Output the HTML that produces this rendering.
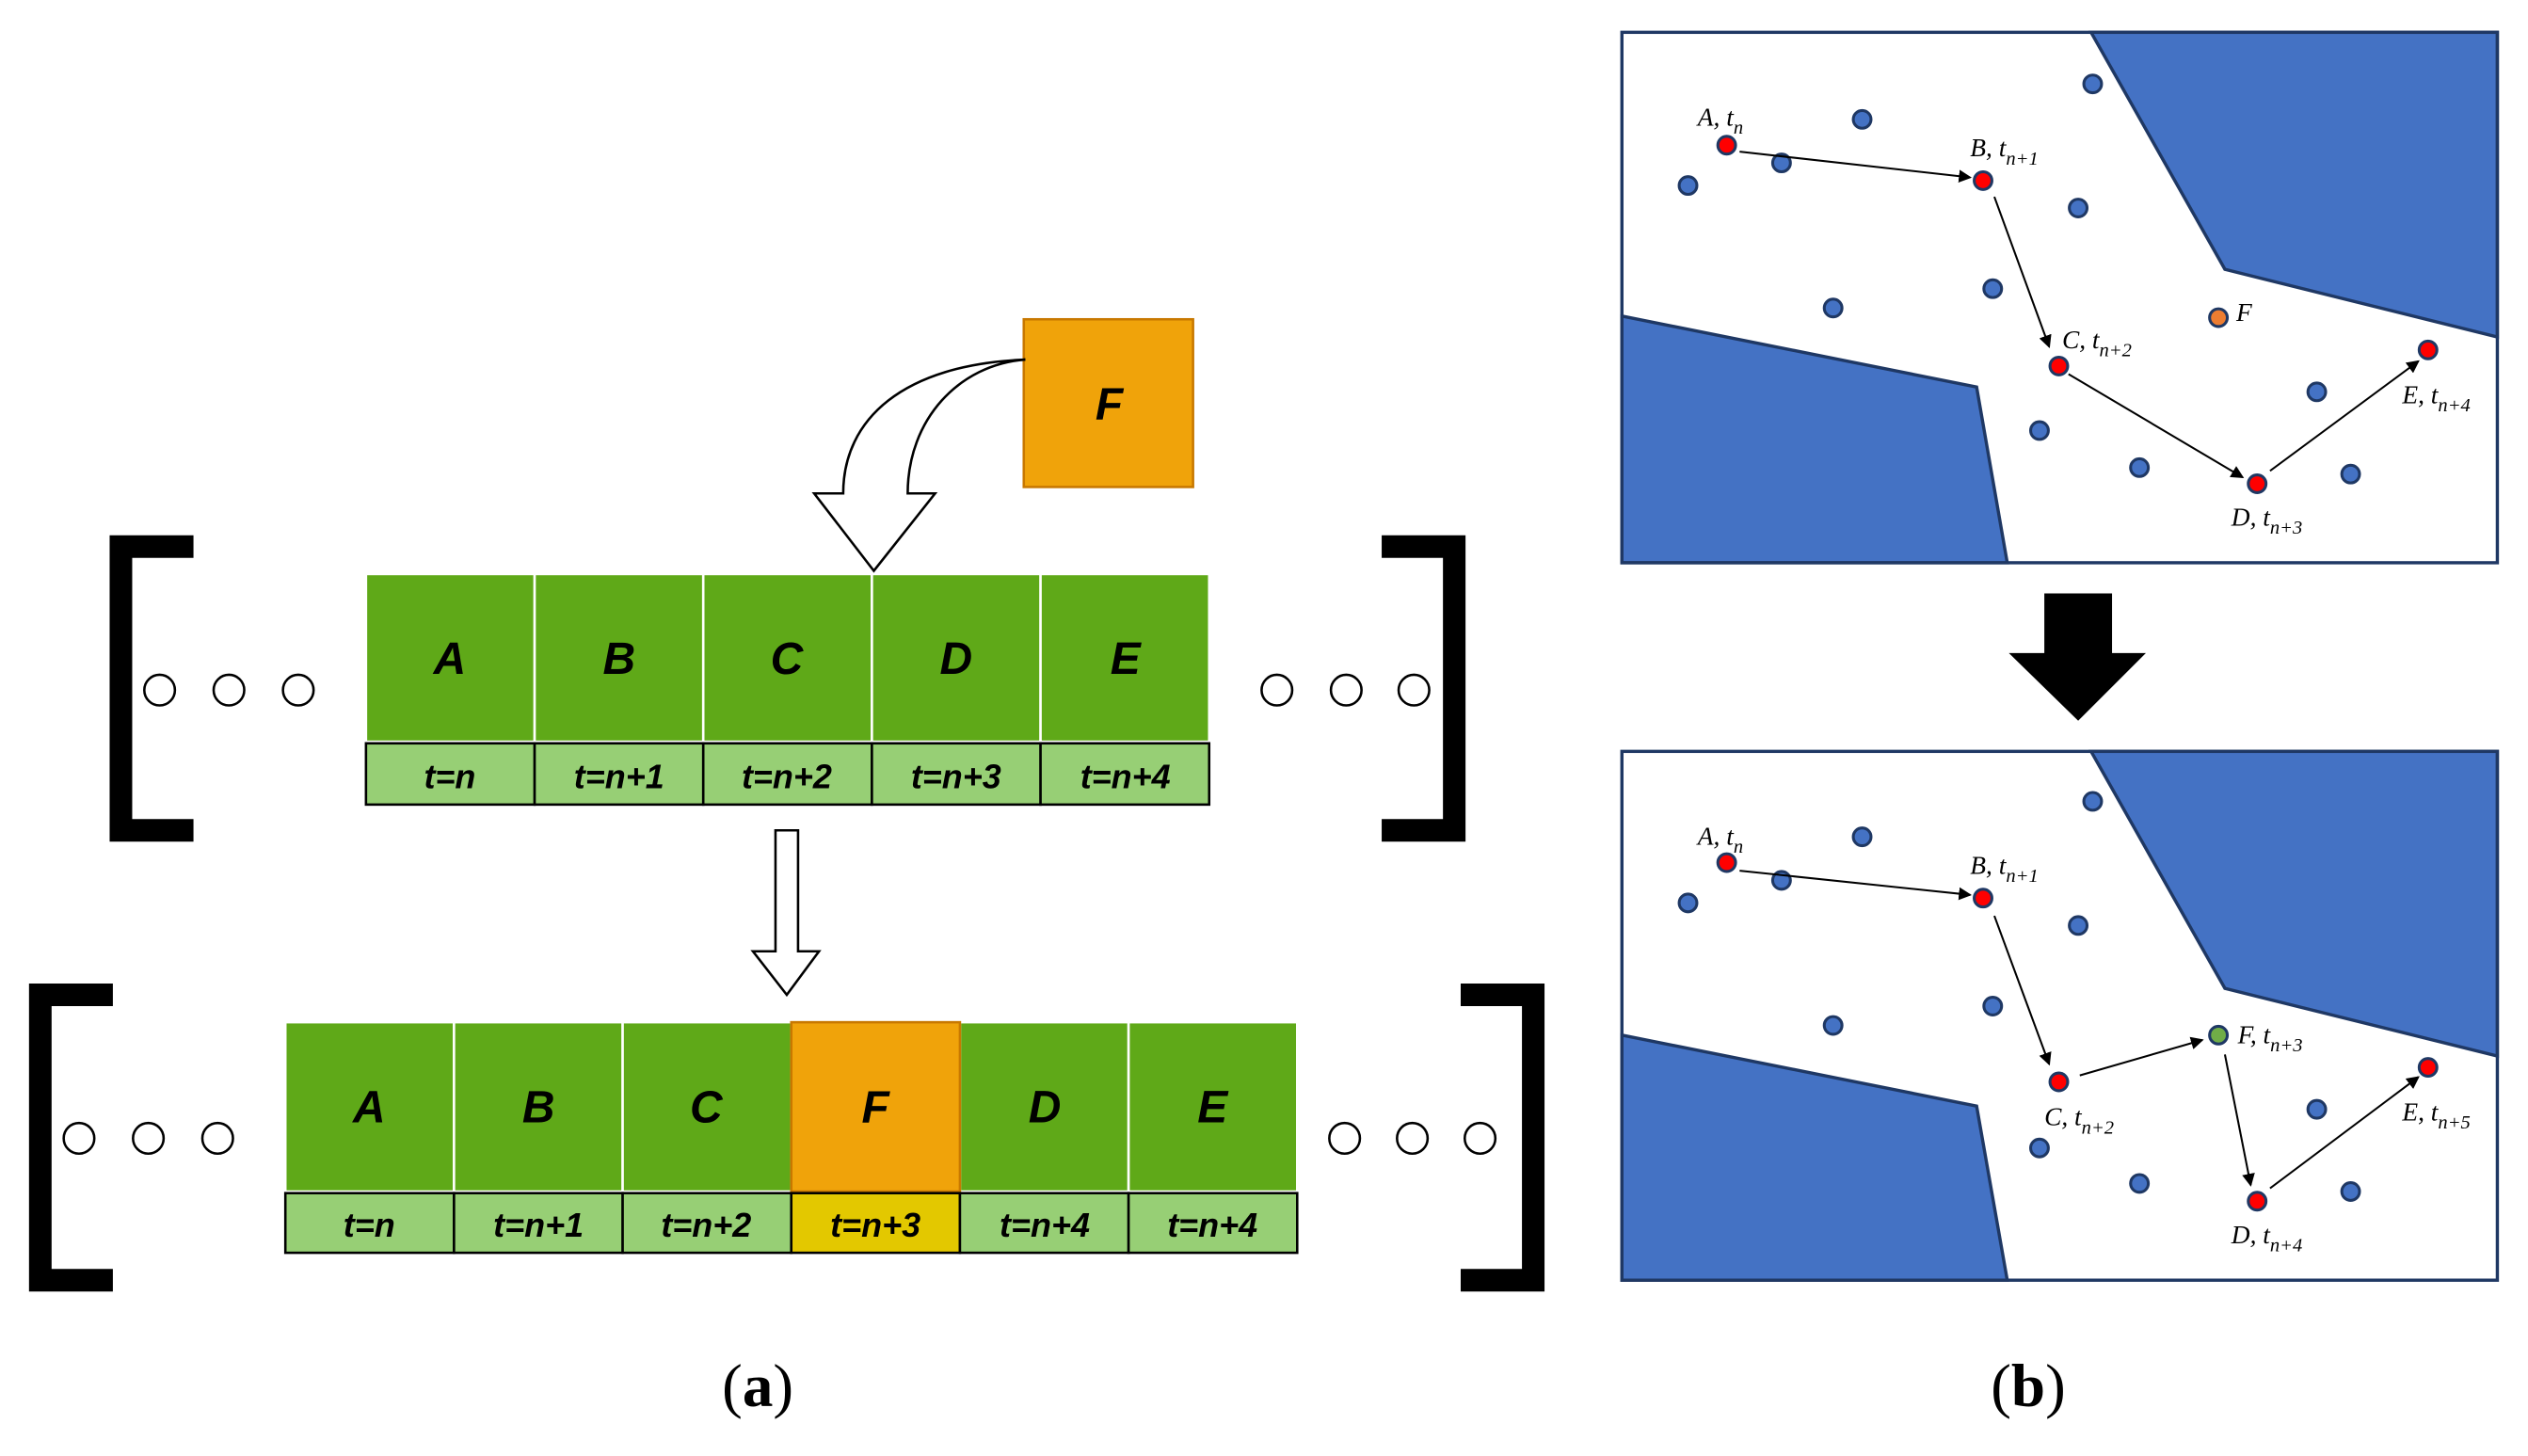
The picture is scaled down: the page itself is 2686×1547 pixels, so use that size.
<!DOCTYPE html>
<html><head><meta charset="utf-8"><style>html,body{margin:0;padding:0;background:#fff}svg{display:block}</style></head>
<body>
<svg width="2686" height="1547" viewBox="0 0 1568 903" xmlns="http://www.w3.org/2000/svg">
<defs>
<marker id="ah" markerWidth="8" markerHeight="8" refX="7" refY="4" orient="auto" markerUnits="userSpaceOnUse">
<path d="M0,0 L8,4 L0,8 Z" fill="#000"/></marker>
</defs>
<g font-family="Liberation Sans, sans-serif" font-weight="bold" font-style="italic" text-anchor="middle">
<rect x="635" y="198" width="105" height="104" fill="#f0a30a" stroke="#c87800" stroke-width="1.5"/>
<text x="688" y="260" font-size="28">F</text>
<path d="M523,306 C523,260 560,226 636,223 C595,226 563,260 563,306 L580,306 L542,354 L505,306 Z" fill="#fff" stroke="#000" stroke-width="1.5"/>
<g fill="#5fa918" stroke="#fff" stroke-width="1.5">
<rect x="227" y="356" width="104.6" height="104"/><rect x="331.6" y="356" width="104.6" height="104"/><rect x="436.2" y="356" width="104.6" height="104"/><rect x="540.8" y="356" width="104.6" height="104"/><rect x="645.4" y="356" width="104.6" height="104"/>
</g>
<g fill="#97cf75" stroke="#000" stroke-width="1.5">
<rect x="227" y="461" width="104.6" height="38"/><rect x="331.6" y="461" width="104.6" height="38"/><rect x="436.2" y="461" width="104.6" height="38"/><rect x="540.8" y="461" width="104.6" height="38"/><rect x="645.4" y="461" width="104.6" height="38"/>
</g>
<g font-size="28"><text x="279" y="418">A</text><text x="384" y="418">B</text><text x="488" y="418">C</text><text x="593" y="418">D</text><text x="698" y="418">E</text></g>
<g font-size="21"><text x="279" y="489">t=n</text><text x="384" y="489">t=n+1</text><text x="488" y="489">t=n+2</text><text x="593" y="489">t=n+3</text><text x="698" y="489">t=n+4</text></g>
<path d="M120,332 H68 V522 H120 V508 H82 V346 H120 Z" fill="#000"/>
<path d="M857,332 H909 V522 H857 V508 H895 V346 H857 Z" fill="#000"/>
<g fill="#fff" stroke="#000" stroke-width="1.5">
<circle cx="99" cy="428" r="9.5"/><circle cx="142" cy="428" r="9.5"/><circle cx="185" cy="428" r="9.5"/>
<circle cx="792" cy="428" r="9.5"/><circle cx="835" cy="428" r="9.5"/><circle cx="877" cy="428" r="9.5"/>
</g>
<path d="M481,515 H495 V590 H508 L488,617 L467,590 H481 Z" fill="#fff" stroke="#000" stroke-width="1.5"/>
<g fill="#5fa918" stroke="#fff" stroke-width="1.5">
<rect x="177" y="634" width="104.6" height="105"/><rect x="281.6" y="634" width="104.6" height="105"/><rect x="386.2" y="634" width="104.6" height="105"/><rect x="595.4" y="634" width="104.6" height="105"/><rect x="700" y="634" width="104.6" height="105"/>
</g>
<rect x="490.8" y="634" width="104.6" height="105" fill="#f0a30a" stroke="#c87800" stroke-width="1.5"/>
<g fill="#97cf75" stroke="#000" stroke-width="1.5">
<rect x="177" y="740" width="104.6" height="37"/><rect x="281.6" y="740" width="104.6" height="37"/><rect x="386.2" y="740" width="104.6" height="37"/><rect x="490.8" y="740" width="104.6" height="37" fill="#e3c800"/><rect x="595.4" y="740" width="104.6" height="37"/><rect x="700" y="740" width="104.6" height="37"/>
</g>
<g font-size="28"><text x="229" y="696">A</text><text x="334" y="696">B</text><text x="438" y="696">C</text><text x="543" y="696">F</text><text x="648" y="696">D</text><text x="752" y="696">E</text></g>
<g font-size="21"><text x="229" y="767">t=n</text><text x="334" y="767">t=n+1</text><text x="438" y="767">t=n+2</text><text x="543" y="767">t=n+3</text><text x="648" y="767">t=n+4</text><text x="752" y="767">t=n+4</text></g>
<path d="M70,610 H18 V801 H70 V787 H32 V624 H70 Z" fill="#000"/>
<path d="M906,610 H958 V801 H906 V787 H944 V624 H906 Z" fill="#000"/>
<g fill="#fff" stroke="#000" stroke-width="1.5">
<circle cx="49" cy="706" r="9.5"/><circle cx="92" cy="706" r="9.5"/><circle cx="135" cy="706" r="9.5"/>
<circle cx="834" cy="706" r="9.5"/><circle cx="876" cy="706" r="9.5"/><circle cx="918" cy="706" r="9.5"/>
</g>
</g>
<g font-family="Liberation Serif, serif" font-size="38" text-anchor="middle">
<text x="470" y="872">(<tspan font-weight="bold">a</tspan>)</text>
<text x="1258" y="872">(<tspan font-weight="bold">b</tspan>)</text>
</g>
<path d="M1268,368 H1310 V405 H1331 L1289,447 L1246,405 H1268 Z" fill="#000"/>
<g>
<rect x="1006" y="20" width="543" height="329" fill="#fff"/>
<path d="M1297,20 H1549 V209 L1380,167 Z" fill="#4472c4" stroke="#1f3864" stroke-width="2"/>
<path d="M1006,196 L1226,240 L1245,349 H1006 Z" fill="#4472c4" stroke="#1f3864" stroke-width="2"/>
<rect x="1006" y="20" width="543" height="329" fill="none" stroke="#1f3864" stroke-width="2"/>
<g fill="#4472c4" stroke="#1f3864" stroke-width="1.8">
<circle cx="1047" cy="115" r="5.5"/><circle cx="1105" cy="101" r="5.5"/><circle cx="1155" cy="74" r="5.5"/><circle cx="1298" cy="52" r="5.5"/><circle cx="1289" cy="129" r="5.5"/><circle cx="1236" cy="179" r="5.5"/><circle cx="1137" cy="191" r="5.5"/><circle cx="1265" cy="267" r="5.5"/><circle cx="1327" cy="290" r="5.5"/><circle cx="1437" cy="243" r="5.5"/><circle cx="1458" cy="294" r="5.5"/>
</g>
<g fill="#ff0000" stroke="#1f3864" stroke-width="1.8">
<circle cx="1071" cy="90" r="5.5"/><circle cx="1230" cy="112" r="5.5"/><circle cx="1277" cy="227" r="5.5"/><circle cx="1400" cy="300" r="5.5"/><circle cx="1506" cy="217" r="5.5"/>
</g>
<circle cx="1376" cy="197" r="5.5" fill="#ed7d31" stroke="#1f3864" stroke-width="1.8"/>
<g stroke="#000" stroke-width="1.2" marker-end="url(#ah)">
<line x1="1079" y1="94" x2="1222" y2="110"/><line x1="1237" y1="122" x2="1271" y2="215"/><line x1="1283" y1="232" x2="1391" y2="296"/><line x1="1408" y1="292" x2="1500" y2="224"/>
</g>
<g font-family="Liberation Serif, serif" font-style="italic" font-size="16">
<text x="1053" y="78">A, t<tspan font-size="12" dy="5">n</tspan></text>
<text x="1222" y="97">B, t<tspan font-size="12" dy="5">n+1</tspan></text>
<text x="1279" y="216">C, t<tspan font-size="12" dy="5">n+2</tspan></text>
<text x="1387" y="199">F</text>
<text x="1384" y="326">D, t<tspan font-size="12" dy="5">n+3</tspan></text>
<text x="1490" y="250">E, t<tspan font-size="12" dy="5">n+4</tspan></text>
</g>
</g>
<g>
<rect x="1006" y="466" width="543" height="328" fill="#fff"/>
<path d="M1297,466 H1549 V655 L1380,613 Z" fill="#4472c4" stroke="#1f3864" stroke-width="2"/>
<path d="M1006,642 L1226,686 L1245,794 H1006 Z" fill="#4472c4" stroke="#1f3864" stroke-width="2"/>
<rect x="1006" y="466" width="543" height="328" fill="none" stroke="#1f3864" stroke-width="2"/>
<g fill="#4472c4" stroke="#1f3864" stroke-width="1.8">
<circle cx="1047" cy="560" r="5.5"/><circle cx="1105" cy="546" r="5.5"/><circle cx="1155" cy="519" r="5.5"/><circle cx="1298" cy="497" r="5.5"/><circle cx="1289" cy="574" r="5.5"/><circle cx="1236" cy="624" r="5.5"/><circle cx="1137" cy="636" r="5.5"/><circle cx="1265" cy="712" r="5.5"/><circle cx="1327" cy="734" r="5.5"/><circle cx="1437" cy="688" r="5.5"/><circle cx="1458" cy="739" r="5.5"/>
</g>
<g fill="#ff0000" stroke="#1f3864" stroke-width="1.8">
<circle cx="1071" cy="535" r="5.5"/><circle cx="1230" cy="557" r="5.5"/><circle cx="1277" cy="671" r="5.5"/><circle cx="1400" cy="745" r="5.5"/><circle cx="1506" cy="662" r="5.5"/>
</g>
<circle cx="1376" cy="642" r="5.5" fill="#70ad47" stroke="#1f3864" stroke-width="1.8"/>
<g stroke="#000" stroke-width="1.2" marker-end="url(#ah)">
<line x1="1079" y1="540" x2="1222" y2="555"/><line x1="1237" y1="568" x2="1271" y2="660"/><line x1="1290" y1="667" x2="1366" y2="645"/><line x1="1380" y1="654" x2="1396" y2="735"/><line x1="1408" y1="737" x2="1500" y2="668"/>
</g>
<g font-family="Liberation Serif, serif" font-style="italic" font-size="16">
<text x="1053" y="524">A, t<tspan font-size="12" dy="5">n</tspan></text>
<text x="1222" y="542">B, t<tspan font-size="12" dy="5">n+1</tspan></text>
<text x="1388" y="647">F, t<tspan font-size="12" dy="5">n+3</tspan></text>
<text x="1268" y="698">C, t<tspan font-size="12" dy="5">n+2</tspan></text>
<text x="1384" y="771">D, t<tspan font-size="12" dy="5">n+4</tspan></text>
<text x="1490" y="695">E, t<tspan font-size="12" dy="5">n+5</tspan></text>
</g>
</g>
</svg>
</body></html>
